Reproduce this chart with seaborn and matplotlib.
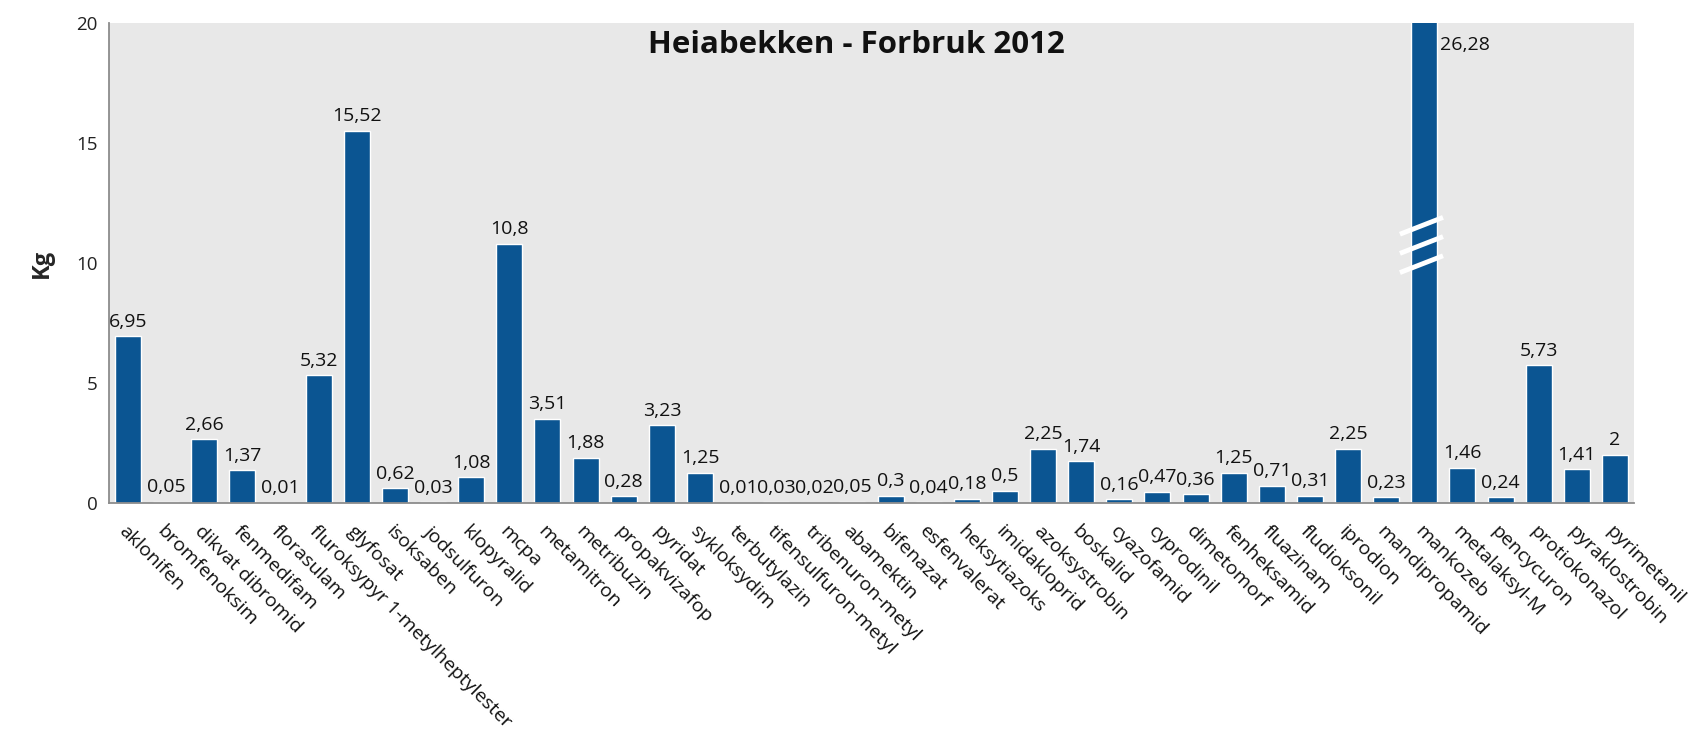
import matplotlib
matplotlib.use("Agg")
import matplotlib.pyplot as plt
import seaborn as sns
import pandas as pd

categories = ["aklonifen", "bromfenoksim", "dikvat dibromid", "fenmedifam", "florasulam",
              "fluroksypyr 1-metylheptylester", "glyfosat", "isoksaben", "jodsulfuron", "klopyralid",
              "mcpa", "metamitron", "metribuzin", "propakvizafop", "pyridat", "sykloksydim",
              "terbutylazin", "tifensulfuron-metyl", "tribenuron-metyl", "abamektin", "bifenazat",
              "esfenvalerat", "heksytiazoks", "imidakloprid", "azoksystrobin", "boskalid",
              "cyazofamid", "cyprodinil", "dimetomorf", "fenheksamid", "fluazinam", "fludioksonil",
              "iprodion", "mandipropamid", "mankozeb", "metalaksyl-M", "pencycuron",
              "protiokonazol", "pyraklostrobin", "pyrimetanil"]
values = [6.95, 0.05, 2.66, 1.37, 0.01, 5.32, 15.52, 0.62, 0.03, 1.08,
          10.8, 3.51, 1.88, 0.28, 3.23, 1.25, 0.01, 0.03, 0.02, 0.05,
          0.3, 0.04, 0.18, 0.5, 2.25, 1.74, 0.16, 0.47, 0.36, 1.25,
          0.71, 0.31, 2.25, 0.23, 26.28, 1.46, 0.24, 5.73, 1.41, 2]
y_ticks = [0, 5, 10, 15, 20]
title = "Heiabekken - Forbruk 2012"
y_label = "Kg"

BAR = "#0B5592"
BG = "#E8E8E8"
FONT = ["Open Sans", "DejaVu Sans"]

sns.set_style("white")
plt.rcParams["font.family"] = FONT

df = pd.DataFrame({"stoff": categories, "kg": values})

fig = plt.figure(figsize=(17.06, 7.44), dpi=100)
ax = fig.add_axes([0.0639, 0.3239, 0.8939, 0.6452])
ax.set_facecolor(BG)

sns.barplot(data=df, x="stoff", y="kg", color=BAR, saturation=1, width=0.68, ax=ax)

ymax = y_ticks[-1]
ax.set_ylim(0, ymax)
ax.set_xlim(-0.5, len(categories) - 0.5)
ax.set_yticks(y_ticks)
ax.set_yticklabels([str(t) for t in y_ticks], fontsize=13.5, color="#222222")
ax.tick_params(axis="both", length=0, pad=8)
ax.set_xticks(range(len(categories)))
ax.set_xticklabels(categories, rotation=-45, ha="left", va="top",
                   rotation_mode="anchor", fontsize=14, color="#111111")
ax.tick_params(axis="x", pad=14)
ax.set_xlabel("")
ax.set_ylabel(y_label, fontsize=17, fontweight="bold", labelpad=16)

for s in ["top", "right"]:
    ax.spines[s].set_visible(False)
for s in ["left", "bottom"]:
    ax.spines[s].set_color("#8C8C8C")
    ax.spines[s].set_linewidth(1.3)

def fmt(v):
    return f"{v:g}".replace(".", ",")

labels = [fmt(v) if v <= ymax else "" for v in values]
ax.bar_label(ax.containers[0], labels=labels, padding=4, fontsize=14, color="#111111")

# over-range bar: value label beside the bar and break marks
for i, v in enumerate(values):
    if v > ymax:
        ax.text(i + 0.4, ymax * 0.955, fmt(v), ha="left", va="center", fontsize=14, color="#111111")
        brk = ymax * 0.5
        for k in range(3):
            y0 = brk - 0.4 + k * 0.8
            ax.plot([i - 0.64, i + 0.49], [y0, y0 + 0.7], color="white", lw=3.5,
                    solid_capstyle="butt", clip_on=False, zorder=5)

ax.text(0.49, 0.985, title, transform=ax.transAxes, ha="center", va="top",
        fontsize=22.5, fontweight="bold", color="#111111")

fig.savefig("out.png", dpi=100)
